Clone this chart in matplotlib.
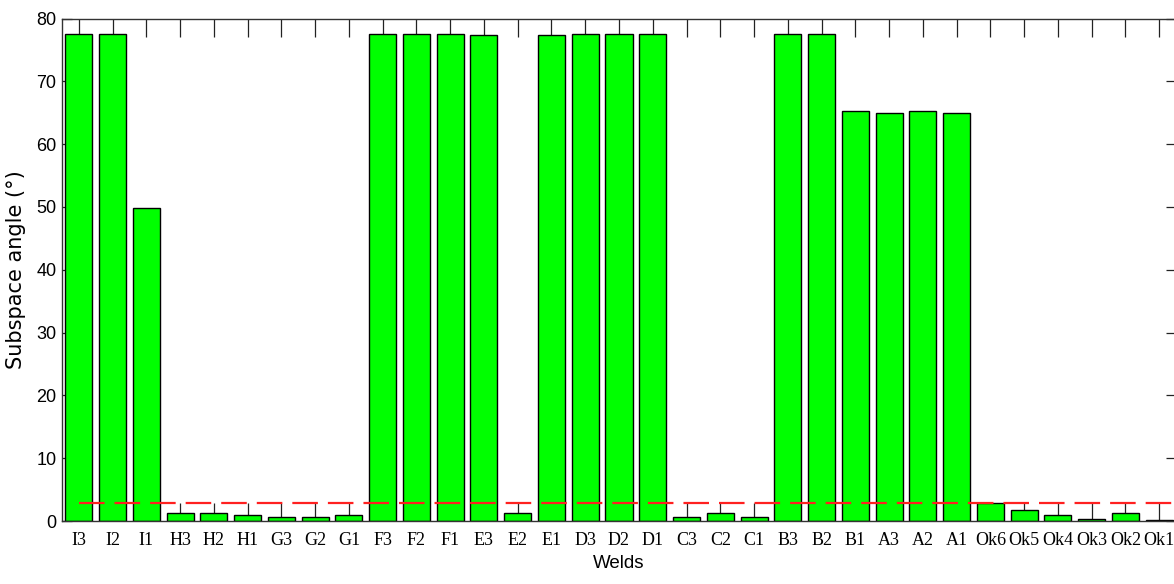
import matplotlib
matplotlib.use("Agg")
import matplotlib.pyplot as plt
import numpy as np

welds = ['I3', 'I2', 'I1', 'H3', 'H2', 'H1', 'G3', 'G2', 'G1',
         'F3', 'F2', 'F1', 'E3', 'E2', 'E1', 'D3', 'D2', 'D1',
         'C3', 'C2', 'C1', 'B3', 'B2', 'B1', 'A3', 'A2', 'A1',
         'Ok6', 'Ok5', 'Ok4', 'Ok3', 'Ok2', 'Ok1']
angles = [77.6, 77.6, 49.9, 1.2, 1.2, 0.9, 0.6, 0.6, 0.9,
          77.6, 77.6, 77.6, 77.3, 1.3, 77.3, 77.6, 77.6, 77.6,
          0.6, 1.2, 0.6, 77.6, 77.6, 65.3, 65.0, 65.3, 65.0,
          2.8, 1.7, 0.9, 0.3, 1.3, 0.2]
threshold = 2.8
y_ticks = [0, 10, 20, 30, 40, 50, 60, 70, 80]

W, H = 1174, 584
fig = plt.figure(figsize=(W / 100, H / 100), dpi=100)
fig.patch.set_facecolor('white')
left, right, top, bottom = 62, 1176, 18.5, 521
ax = fig.add_axes([left / W, 1 - bottom / H, (right - left) / W, (bottom - top) / H])

x = np.arange(1, len(welds) + 1)
ax.bar(x, angles, width=0.8, color='#00ff00', edgecolor='black', linewidth=1.0, zorder=3)
ax.plot([1, len(welds) + 0.5], [threshold, threshold], color='#ff2020', lw=1.6,
        linestyle=(0, (11.5, 4.5)), zorder=4)

ax.set_xlim(0.5, len(welds) + 0.5)
ax.set_ylim(0, 80)
ax.set_xticks(x)
ax.set_xticklabels(welds, family=['Liberation Serif', 'DejaVu Serif'], fontsize=13)
ax.set_yticks(y_ticks)
ax.set_yticklabels([str(v) for v in y_ticks],
                   family=['Liberation Sans Narrow', 'Liberation Sans', 'DejaVu Sans'], fontsize=13)
ax.tick_params(axis='x', direction='in', length=12.8, width=0.9, top=True, bottom=True,
               pad=8, colors='#222222')
ax.tick_params(axis='y', direction='in', length=7.5, width=0.9, right=True, pad=4, colors='#222222')
for lbl in ax.get_xticklabels() + ax.get_yticklabels():
    lbl.set_color('black')
for s in ax.spines.values():
    s.set_linewidth(1.0)
    s.set_color('#333333')
    s.set_zorder(5)

ax.set_xlabel('Welds', family=['Liberation Sans', 'DejaVu Sans'], fontsize=13.5, labelpad=4)
ax.set_ylabel('Subspace angle (°)', family=['DejaVu Sans'], fontsize=15, labelpad=7)

fig.savefig('out.png', dpi=100, facecolor='white')
